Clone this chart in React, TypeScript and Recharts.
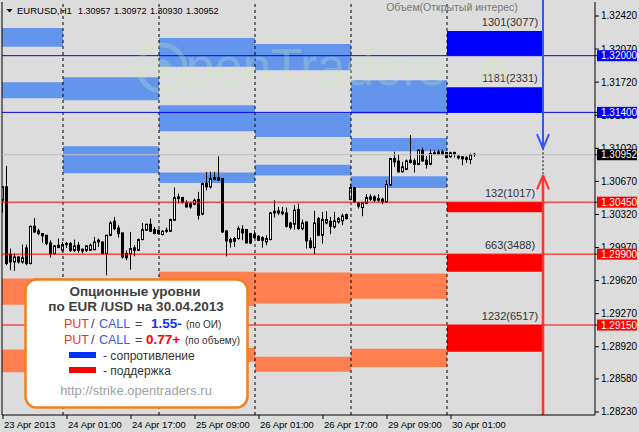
import React from 'react';
import { ComposedChart, Bar, XAxis, YAxis, ReferenceLine, ReferenceArea } from 'recharts';

const FONT = 'Liberation Sans, Arial, sans-serif';

// ---- Candles (EURUSD H1, bar 0 = 23 Apr 09:00) ----
const opens = [
  1.3047, 1.30612, 1.29899, 1.29817, 1.2987, 1.29817, 1.29966, 1.298, 1.30195, 1.30146,
  1.30118, 1.301, 1.30019, 1.29906, 1.29994, 1.2994, 1.30012, 1.30012, 1.2994, 1.29994,
  1.29952, 1.2994, 1.2994, 1.29948, 1.30029, 1.30029, 1.29906, 1.301, 1.30248, 1.30177,
  1.30125, 1.29906, 1.29906, 1.29966, 1.2994, 1.30054, 1.30153, 1.30216, 1.3016, 1.30153,
  1.30107, 1.30153, 1.30142, 1.30259, 1.30488, 1.30499, 1.30446, 1.30435, 1.30428, 1.30478,
  1.30322, 1.30647, 1.30612, 1.30711, 1.30711, 1.307, 1.30146, 1.30054, 1.30036, 1.30065,
  1.30163, 1.3016, 1.30118, 1.30111, 1.30089, 1.30075, 1.30029, 1.30054, 1.30354, 1.30358,
  1.30347, 1.30336, 1.3023, 1.30216, 1.30372, 1.3017, 1.30241, 1.3004, 1.29969, 1.30276,
  1.301, 1.3023, 1.30248, 1.30188, 1.30241, 1.30252, 1.30319, 1.30478, 1.30601, 1.30443,
  1.30393, 1.30436, 1.30506, 1.30506, 1.30471, 1.30481, 1.30453, 1.3063, 1.30912, 1.30884,
  1.30771, 1.30796, 1.30894, 1.30887, 1.30849, 1.31, 1.30894, 1.30852, 1.30972, 1.30958,
  1.30983, 1.30976, 1.3093, 1.30976, 1.30937, 1.3093, 1.30919, 1.30901, 1.30957,
];
const highs = [
  1.30619, 1.30834, 1.29959, 1.29906, 1.29877, 1.30001, 1.30001, 1.30195, 1.30283, 1.3017,
  1.30118, 1.301, 1.30047, 1.29994, 1.30065, 1.30029, 1.30029, 1.30029, 1.30054, 1.30029,
  1.29959, 1.29994, 1.30012, 1.30082, 1.30065, 1.30029, 1.301, 1.30248, 1.30294, 1.30206,
  1.30125, 1.2994, 1.30135, 1.29994, 1.30065, 1.3023, 1.30223, 1.30276, 1.30188, 1.3016,
  1.30153, 1.30181, 1.30276, 1.30605, 1.30541, 1.30506, 1.3047, 1.30453, 1.30488, 1.30559,
  1.30654, 1.30771, 1.30771, 1.30771, 1.30936, 1.307, 1.30153, 1.30075, 1.30082, 1.30195,
  1.30206, 1.3016, 1.30125, 1.30153, 1.301, 1.30089, 1.301, 1.30347, 1.3047, 1.304,
  1.304, 1.30393, 1.30241, 1.30418, 1.30435, 1.30266, 1.30241, 1.30075, 1.30358, 1.30294,
  1.30347, 1.30354, 1.30294, 1.30347, 1.30294, 1.30329, 1.30329, 1.30647, 1.30612, 1.30443,
  1.30453, 1.30534, 1.30534, 1.30524, 1.30534, 1.30499, 1.30683, 1.30919, 1.30983, 1.30958,
  1.30877, 1.30901, 1.31159, 1.30912, 1.31007, 1.31029, 1.30937, 1.31007, 1.31, 1.31007,
  1.31007, 1.30983, 1.30983, 1.30983, 1.30947, 1.30937, 1.30937, 1.30965, 1.30972,
];
const lows = [
  1.3034, 1.29782, 1.29729, 1.29722, 1.298, 1.298, 1.29782, 1.29793, 1.30125, 1.301,
  1.30022, 1.29994, 1.29863, 1.29899, 1.29966, 1.29923, 1.29966, 1.29923, 1.29923, 1.29916,
  1.29906, 1.29923, 1.2994, 1.2994, 1.29976, 1.29899, 1.29676, 1.30089, 1.30153, 1.30075,
  1.29853, 1.29835, 1.29736, 1.29877, 1.29934, 1.30047, 1.30146, 1.30135, 1.30111, 1.30111,
  1.301, 1.30125, 1.30135, 1.30252, 1.30435, 1.30435, 1.30393, 1.30382, 1.30418, 1.30266,
  1.30312, 1.30576, 1.30594, 1.30682, 1.30675, 1.30125, 1.29877, 1.29969, 1.29976, 1.30054,
  1.30047, 1.30012, 1.30005, 1.30065, 1.3004, 1.29969, 1.29994, 1.30047, 1.30287, 1.30312,
  1.30312, 1.30181, 1.3016, 1.3016, 1.3016, 1.30153, 1.29959, 1.29959, 1.29899, 1.30089,
  1.30012, 1.30216, 1.30111, 1.3017, 1.30223, 1.30206, 1.30266, 1.3047, 1.30443, 1.30383,
  1.30301, 1.30428, 1.30464, 1.30453, 1.30453, 1.30428, 1.30443, 1.30623, 1.30824, 1.30764,
  1.30764, 1.30789, 1.30859, 1.30764, 1.30841, 1.30877, 1.30806, 1.30841, 1.30947, 1.30947,
  1.30947, 1.30912, 1.30923, 1.30923, 1.30901, 1.30841, 1.30866, 1.30852, 1.3093,
];
const closes = [
  1.30612, 1.298, 1.29817, 1.2987, 1.29817, 1.29863, 1.298, 1.30195, 1.30135, 1.30118,
  1.30093, 1.30012, 1.29906, 1.29987, 1.29969, 1.30001, 1.30001, 1.2994, 1.29987, 1.2994,
  1.29934, 1.29987, 1.29994, 1.30029, 1.30047, 1.29906, 1.301, 1.3023, 1.3017, 1.30118,
  1.2987, 1.29863, 1.29959, 1.2994, 1.30054, 1.3016, 1.30216, 1.30142, 1.30118, 1.30118,
  1.30142, 1.30142, 1.30266, 1.30499, 1.30506, 1.30446, 1.304, 1.304, 1.3047, 1.30312,
  1.30647, 1.30612, 1.307, 1.30689, 1.30682, 1.30135, 1.3004, 1.30029, 1.30065, 1.3017,
  1.30125, 1.30019, 1.30019, 1.30075, 1.30047, 1.30047, 1.30065, 1.30336, 1.30336, 1.30336,
  1.30329, 1.30195, 1.30181, 1.30365, 1.3017, 1.3023, 1.3004, 1.29969, 1.3023, 1.301,
  1.30266, 1.30266, 1.30195, 1.30252, 1.30276, 1.30305, 1.30276, 1.30605, 1.30453, 1.30407,
  1.30443, 1.30499, 1.30481, 1.30471, 1.30488, 1.30453, 1.30637, 1.30912, 1.30877, 1.30771,
  1.30824, 1.30887, 1.3087, 1.30852, 1.31, 1.30887, 1.30849, 1.30965, 1.30958, 1.30983,
  1.30954, 1.30923, 1.30972, 1.30958, 1.30919, 1.30908, 1.30901, 1.30954, 1.30952,
];

const candles = opens.map((o, i) => ({ i, open: o, high: highs[i], low: lows[i], close: closes[i] }));

// ---- Axes ----
const xTickIndex = [0, 16, 32, 48, 64, 80, 96, 112];
const xTickLabels = ['23 Apr 2013', '24 Apr 01:00', '24 Apr 17:00', '25 Apr 09:00', '26 Apr 01:00', '26 Apr 17:00', '29 Apr 09:00', '30 Apr 01:00'];
const xDomain = [-0.25, 148];
const yDomain = [1.28198, 1.32568];
const yTicks = [1.3242, 1.3207, 1.3172, 1.3137, 1.3102, 1.3067, 1.3032, 1.2997, 1.2962, 1.2927, 1.2892, 1.2858, 1.2823];
const resistanceLevels = [1.32, 1.314];
const supportLevels = [1.3045, 1.299, 1.2915];
const lastPrice = 1.30952;
const headerQuotes = ['1.30957', '1.30972', '1.30930', '1.30952'];

// ---- Day separators and option zones ----
const dayBounds = [-0.25, 15, 39, 63, 87, 111];
const daySeparators = [15, 39, 63, 87, 111];
const currentDay = [111, 135];
// [day, low, high]
const pastResistance = [
  [0, 1.32094, 1.32293], [0, 1.3155, 1.3172],
  [1, 1.31529, 1.31773], [1, 1.30755, 1.31041],
  [2, 1.31882, 1.32187], [2, 1.312, 1.31476], [2, 1.30652, 1.30765],
  [3, 1.31847, 1.32123], [3, 1.3114, 1.31391], [3, 1.30733, 1.30847],
  [4, 1.31388, 1.31741], [4, 1.30988, 1.31129], [4, 1.30599, 1.30723],
];
const pastSupport = [
  [0, 1.29365, 1.29641], [0, 1.28651, 1.28891],
  [1, 1.294, 1.2962], [1, 1.287, 1.289],
  [2, 1.29351, 1.29715], [2, 1.28761, 1.28909],
  [3, 1.29379, 1.29705], [3, 1.28655, 1.28814],
  [4, 1.29429, 1.29694], [4, 1.28707, 1.28899],
];
// [low, high, label]
const todayResistance: [number, number, string][] = [
  [1.32, 1.32261, '1301(3077)'],
  [1.314, 1.31667, '1181(2331)'],
];
const todaySupport: [number, number, string][] = [
  [1.30344, 1.3045, '132(1017)'],
  [1.29715, 1.299, '663(3488)'],
  [1.28867, 1.2915, '1232(6517)'],
];
const arrowX = 135;
const blueArrowTip = 1.3102;
const redArrowTip = 1.30734;

const highlight: Record<string, string> = {
  '1.32000': '#0000ff',
  '1.31400': '#0000ff',
  '1.30952': '#000000',
  '1.30450': '#ff0000',
  '1.29900': '#ff0000',
  '1.29150': '#ff0000',
};
const yAllTicks = [...yTicks, ...resistanceLevels, lastPrice, ...supportLevels];

const Candle = (props: any) => {
  const { x, y, width, height, payload } = props;
  if (!payload) return null;
  const top = Math.min(y, y + height);
  const h = Math.abs(height);
  const { open, close, high, low } = payload;
  const span = high - low || 1e-9;
  const py = (v: number) => top + ((high - v) / span) * h;
  const cx = Math.floor(x + width / 2) + 0.5;
  const bTop = py(Math.max(open, close));
  const bBot = py(Math.min(open, close));
  const up = close >= open;
  return (
    <g>
      <line x1={cx} x2={cx} y1={top} y2={top + h} stroke="#000" strokeWidth={1} />
      <rect x={cx - 1} y={bTop} width={2} height={Math.max(bBot - bTop, 0.5)} fill={up ? '#fff' : '#000'} stroke="#000" strokeWidth={1} />
    </g>
  );
};

const YTick = (props: any) => {
  const { x, y, payload } = props;
  const key = Number(payload.value).toFixed(5);
  const bg = highlight[key];
  if (bg) {
    return (
      <g>
        <rect x={x - 4} y={y - 5.5} width={40} height={11} fill={bg} />
        <text x={x} y={y + 3.5} fill="#fff" fontSize={10} fontFamily={FONT}>{key}</text>
      </g>
    );
  }
  return <text x={x} y={y + 3.5} fill="#000" fontSize={10} fontFamily={FONT}>{key}</text>;
};

const XTick = (props: any) => {
  const { x, y, payload } = props;
  const idx = xTickIndex.indexOf(payload.value);
  return <text x={x + 1} y={y + 7} fill="#000" fontSize={9.5} fontFamily={FONT}>{xTickLabels[idx]}</text>;
};

const ZoneLabel = (props: any) => {
  const vb = props.viewBox;
  if (!vb) return null;
  return (
    <text x={vb.x + vb.width - 33} y={vb.y - 5} textAnchor="middle" fontSize={11} fill="#333" fontFamily={FONT}>
      {props.text}
    </text>
  );
};

const InfoOverlay = () => (
  <svg width={639} height={432} style={{ position: 'absolute', left: 0, top: 0, pointerEvents: 'none' }}>
    {/* watermark */}
    <g opacity={0.25}>
      <circle cx={162} cy={68} r={23} fill="none" stroke="#c8f0b0" strokeWidth={5} />
      <circle cx={162} cy={68} r={9} fill="#c8f0b0" />
      <text x={186} y={85} fontSize={51} fill="#c8f0b0" fontFamily={FONT}>penTraders</text>
      <rect x={481} y={66} width={6} height={14} fill="#c8f0b0" />
      <rect x={490} y={58} width={6} height={22} fill="#c8f0b0" />
      <rect x={499} y={62} width={6} height={18} fill="#c8f0b0" />
    </g>
    {/* header */}
    <polygon points="6.5,9 12.5,9 9.5,12.5" fill="#000" />
    <text x={17} y={14} fontSize={9.5} fill="#000" fontFamily={FONT}>EURUSD,H1</text>
    {headerQuotes.map((q, k) => (
      <text key={q + k} x={78 + k * 36} y={14} fontSize={9} fill="#000" fontFamily={FONT}>{q}</text>
    ))}
    <text x={452} y={11} textAnchor="middle" fontSize={10.5} fill="#777" fontFamily={FONT}>Объем(Открытый интерес)</text>
    {/* info box */}
    <rect x={25.5} y={279.5} width={222} height={128} rx={11} fill="#fff" stroke="#f08020" strokeWidth={2.5} />
    <text x={135} y={296} textAnchor="middle" fontSize={13.5} fontWeight="bold" fill="#404040" fontFamily={FONT}>Опционные уровни</text>
    <text x={136} y={311} textAnchor="middle" fontSize={13.5} fontWeight="bold" fill="#404040" fontFamily={FONT}>по EUR /USD на 30.04.2013</text>
    <text y={328} fontSize={12.5} fontFamily={FONT}>
      <tspan x={64} fill="#e8303c">PUT</tspan>
      <tspan x={91} fill="#404040">/</tspan>
      <tspan x={99} fill="#3a5ae8">CALL</tspan>
      <tspan x={135} fill="#404040">=</tspan>
      <tspan x={151} fill="#1030ff" fontWeight="bold" fontSize={13.5}>1.55-</tspan>
      <tspan x={186} fill="#303030" fontSize={10}>(по ОИ)</tspan>
    </text>
    <text y={344} fontSize={12.5} fontFamily={FONT}>
      <tspan x={64} fill="#e8303c">PUT</tspan>
      <tspan x={91} fill="#404040">/</tspan>
      <tspan x={99} fill="#3a5ae8">CALL</tspan>
      <tspan x={135} fill="#404040">=</tspan>
      <tspan x={146} fill="#ff0000" fontWeight="bold" fontSize={13.5}>0.77+</tspan>
      <tspan x={185} fill="#303030" fontSize={10}>(по объему)</tspan>
    </text>
    <rect x={69} y={352} width={27} height={6} fill="#0030ff" />
    <text x={103} y={360} fontSize={12} fill="#333" fontFamily={FONT}>- сопротивление</text>
    <rect x={69} y={367} width={27} height={6} fill="#ff0000" />
    <text x={103} y={375} fontSize={12} fill="#333" fontFamily={FONT}>- поддержка</text>
    <text x={136} y={395} textAnchor="middle" fontSize={13} fill="#a0a0a0" fontFamily={FONT}>http://strike.opentraders.ru</text>
  </svg>
);

export default function App() {
  return (
    <div style={{ position: 'fixed', left: 0, top: 0, width: 639, height: 432, background: '#dcdcdc', overflow: 'hidden' }}>
      <ComposedChart width={639} height={432} data={candles} margin={{ top: 2, right: 0, bottom: 0, left: 2 }}>
        <XAxis
          dataKey="i"
          type="number"
          domain={xDomain}
          allowDataOverflow
          ticks={xTickIndex}
          interval={0}
          height={17}
          tickSize={4}
          tick={<XTick />}
          axisLine={{ stroke: '#000' }}
          tickLine={{ stroke: '#000' }}
        />
        <YAxis
          orientation="right"
          type="number"
          domain={yDomain}
          allowDataOverflow
          ticks={yAllTicks}
          interval={0}
          width={44}
          tickSize={4}
          tick={<YTick />}
          axisLine={{ stroke: '#000' }}
          tickLine={{ stroke: '#000' }}
        />
        {pastResistance.map(([d, lo, hi], k) => (
          <ReferenceArea key={'r' + k} x1={dayBounds[d]} x2={d + 1 < dayBounds.length ? dayBounds[d + 1] : currentDay[0]} y1={lo} y2={hi} fill="#6495ed" fillOpacity={1} stroke="none" />
        ))}
        {pastSupport.map(([d, lo, hi], k) => (
          <ReferenceArea key={'s' + k} x1={dayBounds[d]} x2={d + 1 < dayBounds.length ? dayBounds[d + 1] : currentDay[0]} y1={lo} y2={hi} fill="#ff7f50" fillOpacity={1} stroke="none" />
        ))}
        {todayResistance.map(([lo, hi, t], k) => (
          <ReferenceArea key={'tr' + k} x1={currentDay[0]} x2={currentDay[1]} y1={lo} y2={hi} fill="#0000ff" fillOpacity={1} stroke="none" label={<ZoneLabel text={t} />} />
        ))}
        {todaySupport.map(([lo, hi, t], k) => (
          <ReferenceArea key={'ts' + k} x1={currentDay[0]} x2={currentDay[1]} y1={lo} y2={hi} fill="#ff0000" fillOpacity={1} stroke="none" label={<ZoneLabel text={t} />} />
        ))}
        {daySeparators.map((d) => (
          <ReferenceLine key={'d' + d} x={d} stroke="#000" strokeDasharray="3 3" />
        ))}
        <ReferenceLine x={xDomain[0]} stroke="#000" />
        <ReferenceLine y={lastPrice} stroke="#c0c0c0" />
        <Bar dataKey={(d: any) => [d.low, d.high]} barSize={3} shape={<Candle />} isAnimationActive={false} />
        {resistanceLevels.map((v) => (
          <ReferenceLine key={'rl' + v} y={v} stroke="#0000ff" />
        ))}
        {supportLevels.map((v) => (
          <ReferenceLine key={'sl' + v} y={v} stroke="#ff0000" />
        ))}
        <ReferenceLine segment={[{ x: arrowX, y: 1.3259 }, { x: arrowX, y: blueArrowTip }]} stroke="#3355ff" strokeWidth={2} ifOverflow="visible" />
        <ReferenceLine segment={[{ x: arrowX - 1.5, y: blueArrowTip + 0.0015 }, { x: arrowX, y: blueArrowTip }]} stroke="#3355ff" strokeWidth={2} />
        <ReferenceLine segment={[{ x: arrowX + 1.5, y: blueArrowTip + 0.0015 }, { x: arrowX, y: blueArrowTip }]} stroke="#3355ff" strokeWidth={2} />
        <ReferenceLine segment={[{ x: arrowX, y: blueArrowTip }, { x: arrowX, y: redArrowTip }]} stroke="#000" strokeDasharray="2 2" />
        <ReferenceLine segment={[{ x: arrowX, y: redArrowTip }, { x: arrowX, y: yDomain[0] }]} stroke="#ff3333" strokeWidth={2.5} />
        <ReferenceLine segment={[{ x: arrowX - 1.5, y: redArrowTip - 0.0015 }, { x: arrowX, y: redArrowTip }]} stroke="#ff3333" strokeWidth={2} />
        <ReferenceLine segment={[{ x: arrowX + 1.5, y: redArrowTip - 0.0015 }, { x: arrowX, y: redArrowTip }]} stroke="#ff3333" strokeWidth={2} />
      </ComposedChart>
      <InfoOverlay />
    </div>
  );
}
